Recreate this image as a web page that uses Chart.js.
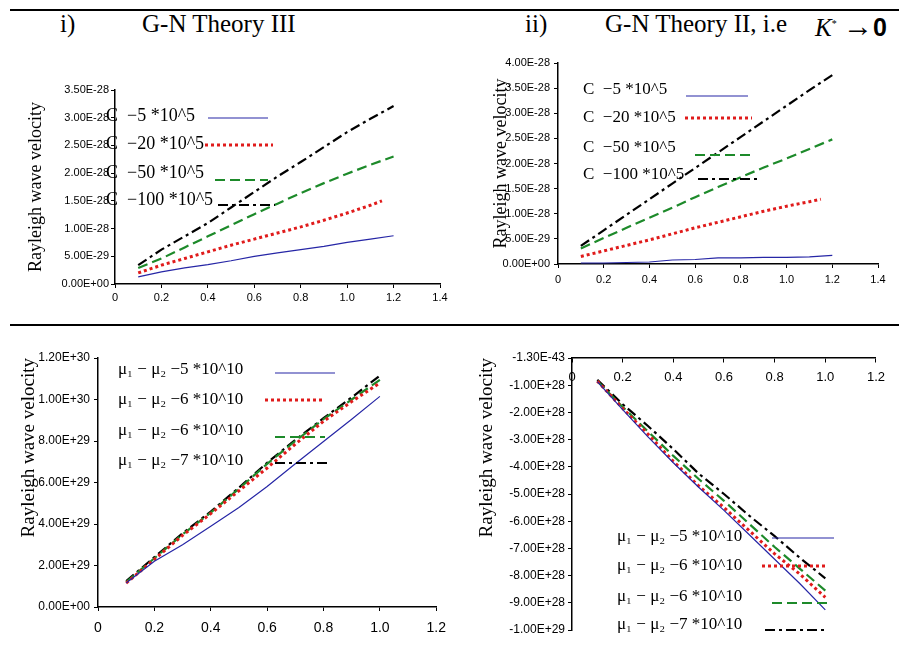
<!DOCTYPE html>
<html>
<head>
<meta charset="utf-8">
<script src="https://cdn.jsdelivr.net/npm/chart.js@4"></script>
<style>
  body { margin: 0; background: #fff; width: 899px; height: 658px; position: relative; overflow: hidden; font-family: "Liberation Serif", serif; }
  canvas { position: absolute; }
  .rule { position: absolute; left: 10px; width: 889px; height: 2px; background: #000; }
  .ttl { position: absolute; font-size: 25px; line-height: 25px; white-space: nowrap; color: #000; }
</style>
</head>
<body>
<div class="rule" style="top:9px"></div>
<div class="rule" style="top:324px"></div>
<div class="ttl" style="left:60px;top:11px">i)</div>
<div class="ttl" style="left:142px;top:11px">G-N Theory III</div>
<div class="ttl" style="left:525px;top:11px">ii)</div>
<div class="ttl" style="left:605px;top:11px">G-N Theory II, i.e</div>
<div class="ttl" style="left:815px;top:11px"><i>K</i><sup style="font-size:10px">*</sup> <span style="font-size:30px">&#8594;</span><b style="font-family:'Liberation Sans'">0</b></div>

<canvas id="c1" width="435" height="235" style="left:25px;top:75px"></canvas>
<canvas id="c2" width="402" height="252" style="left:490px;top:48px"></canvas>
<canvas id="c3" width="437" height="305" style="left:18px;top:340px"></canvas>
<canvas id="c4" width="417" height="305" style="left:476px;top:340px"></canvas>

<script>
// i) G-N Theory III  (y in units of 1E-28)
const iX = [0.1, 0.2, 0.3, 0.4, 0.5, 0.6, 0.7, 0.8, 0.9, 1.0, 1.1, 1.2];
const iXRed = [0.1, 0.2, 0.3, 0.4, 0.5, 0.6, 0.7, 0.8, 0.9, 1.0, 1.1, 1.15];
const iBlue = [0.13, 0.22, 0.29, 0.35, 0.42, 0.5, 0.56, 0.62, 0.68, 0.75, 0.81, 0.87];
const iRed = [0.2, 0.34, 0.46, 0.58, 0.7, 0.81, 0.92, 1.03, 1.15, 1.28, 1.42, 1.5];
const iGreen = [0.29, 0.46, 0.66, 0.86, 1.06, 1.26, 1.45, 1.64, 1.82, 1.99, 2.15, 2.3];
const iBlack = [0.34, 0.62, 0.86, 1.1, 1.38, 1.66, 1.94, 2.2, 2.47, 2.74, 2.98, 3.21];
const iLabels = ["C  \u22125 *10^5", "C  \u221220 *10^5", "C  \u221250 *10^5", "C  \u2212100 *10^5"];

// ii) G-N Theory II  (y in units of 1E-28)
const iiX = [0.1, 0.2, 0.3, 0.4, 0.5, 0.6, 0.7, 0.8, 0.9, 1.0, 1.1, 1.2];
const iiXRed = [0.1, 0.2, 0.3, 0.4, 0.5, 0.6, 0.7, 0.8, 0.9, 1.0, 1.1, 1.15];
const iiBlue = [0.02, 0.02, 0.03, 0.04, 0.08, 0.09, 0.12, 0.12, 0.13, 0.13, 0.14, 0.17];
const iiRed = [0.15, 0.26, 0.37, 0.48, 0.6, 0.72, 0.83, 0.94, 1.05, 1.15, 1.24, 1.29];
const iiGreen = [0.31, 0.52, 0.72, 0.92, 1.12, 1.33, 1.53, 1.73, 1.92, 2.1, 2.29, 2.48];
const iiBlack = [0.36, 0.67, 0.98, 1.29, 1.6, 1.91, 2.22, 2.53, 2.84, 3.15, 3.46, 3.76];
const iiLabels = ["C  \u22125 *10^5", "C  \u221220 *10^5", "C  \u221250 *10^5", "C  \u2212100 *10^5"];

// iii) (y in units of 1E+29)
const iiiX = [0.1, 0.2, 0.3, 0.4, 0.5, 0.6, 0.7, 0.8, 0.9, 1.0];
const iiiBlue = [1.16, 2.2, 3.0, 3.89, 4.8, 5.81, 6.9, 7.98, 9.05, 10.15];
const iiiRed = [1.15, 2.3, 3.45, 4.5, 5.6, 6.7, 7.85, 8.95, 9.9, 10.8];
const iiiGreen = [1.2, 2.35, 3.5, 4.55, 5.7, 6.9, 8.0, 9.05, 10.0, 10.95];
const iiiBlack = [1.25, 2.4, 3.55, 4.6, 5.75, 6.95, 8.05, 9.1, 10.1, 11.15];

// iv) (y in units of 1E+28)
const ivX = [0.1, 0.2, 0.3, 0.4, 0.5, 0.6, 0.7, 0.8, 0.9, 1.0];
const ivBlue = [-0.87, -1.9, -2.9, -3.85, -4.75, -5.6, -6.5, -7.4, -8.3, -9.26];
const ivRed = [-0.85, -1.85, -2.8, -3.8, -4.7, -5.5, -6.35, -7.2, -7.95, -8.8];
const ivGreen = [-0.85, -1.8, -2.7, -3.6, -4.45, -5.25, -6.1, -6.95, -7.75, -8.55];
const ivBlack = [-0.8, -1.7, -2.5, -3.35, -4.25, -5.0, -5.8, -6.55, -7.35, -8.1];
const ivZeroLabel = "-1.30E-43";

const muLabels = [
  "\u03bc\u2081 \u2212 \u03bc\u2082 \u22125 *10^10",
  "\u03bc\u2081 \u2212 \u03bc\u2082 \u22126 *10^10",
  "\u03bc\u2081 \u2212 \u03bc\u2082 \u22126 *10^10",
  "\u03bc\u2081 \u2212 \u03bc\u2082 \u22127 *10^10",
];

const styles = [
  { color: "#2626a6", width: 1.2, dash: [] },
  { color: "#e01b1b", width: 3, dash: [3, 3] },
  { color: "#1d8a2a", width: 2.2, dash: [10, 5] },
  { color: "#000000", width: 2.2, dash: [10, 4, 3, 4] },
];

function pts(xs, ys) {
  return xs.map((x, i) => ({ x: x, y: ys[i] }));
}

function sets(list, labels) {
  return list.map((p, i) => ({
    label: labels[i],
    data: pts(p[0], p[1]),
    borderColor: styles[i].color,
    borderWidth: styles[i].width,
    borderDash: styles[i].dash,
    pointRadius: 0,
    fill: false,
    tension: 0,
  }));
}

function sci(v) {
  if (Math.abs(v) < 1e-60) return "0.00E+00";
  return v.toExponential(2).toUpperCase();
}

// legend drawn inside the plot like in the scan
function legendPlugin(box, lg) {
  return {
    id: "inlineLegend",
    afterDatasetsDraw(chart) {
      const ctx = chart.ctx;
      ctx.save();
      chart.data.datasets.forEach((ds, i) => {
        const r = lg.rows[i];
        ctx.font = lg.font;
        ctx.fillStyle = "#000";
        ctx.textBaseline = "middle";
        ctx.setLineDash([]);
        ctx.fillText(ds.label, lg.textX - box.left, r.ty - box.top);
        ctx.strokeStyle = ds.borderColor;
        ctx.lineWidth = ds.borderWidth;
        ctx.setLineDash(ds.borderDash);
        ctx.beginPath();
        ctx.moveTo(r.x1 - box.left, r.ly - box.top);
        ctx.lineTo(r.x2 - box.left, r.ly - box.top);
        ctx.stroke();
      });
      ctx.restore();
    },
  };
}

function axis(size, pad) {
  return {
    border: { display: true, color: "#000", width: 1.5 },
    grid: { display: true, drawOnChartArea: false, drawTicks: true, tickLength: 4, color: "#000" },
    ticks: { color: "#000", font: { family: "Liberation Sans", size: size }, padding: pad, autoSkip: false },
  };
}

function makeChart(id, box, datasets, cfg, lg) {
  const xAx = axis(cfg.xFont, cfg.xPad);
  xAx.type = "linear";
  xAx.min = 0;
  xAx.max = cfg.xMax;
  xAx.ticks.stepSize = 0.2;
  if (cfg.xTop) {
    xAx.position = { y: 0 };
  } else {
    xAx.afterFit = (s) => { s.height = cfg.xH; };
  }

  const yAx = axis(cfg.yFont, cfg.yPad);
  yAx.min = cfg.yMin;
  yAx.max = cfg.yMax;
  yAx.ticks.stepSize = cfg.yStep;
  yAx.ticks.callback = cfg.yFmt;
  yAx.afterFit = (s) => { s.width = cfg.yW; };
  yAx.title = {
    display: true,
    text: "Rayleigh wave velocity",
    color: "#000",
    font: { family: "Liberation Serif", size: cfg.titleSize },
    padding: 0,
    align: cfg.titleAlign,
  };

  new Chart(document.getElementById(id), {
    type: "line",
    data: { datasets: datasets },
    options: {
      responsive: false,
      animation: false,
      layout: { padding: cfg.padding },
      plugins: { legend: { display: false }, tooltip: { enabled: false } },
      scales: { x: xAx, y: yAx },
    },
    plugins: [legendPlugin(box, lg)],
  });
}

makeChart("c1", { left: 25, top: 75 },
  sets([[iX, iBlue], [iXRed, iRed], [iX, iGreen], [iX, iBlack]], iLabels),
  {
    xMax: 1.4, xFont: 11, xPad: 3, xH: 26,
    yMin: 0, yMax: 3.5, yStep: 0.5, yFont: 11, yPad: 2, yW: 90,
    yFmt: (v) => sci(v * 1e-28),
    titleSize: 18, titleAlign: "center",
    padding: { top: 15, right: 20, left: 0, bottom: 0 },
  },
  {
    font: "18px 'Liberation Serif'", textX: 106,
    rows: [
      { ty: 116, x1: 208, x2: 268, ly: 118 },
      { ty: 144, x1: 205, x2: 273, ly: 145 },
      { ty: 173, x1: 215, x2: 268, ly: 180 },
      { ty: 200, x1: 218, x2: 275, ly: 205 },
    ],
  });

makeChart("c2", { left: 490, top: 48 },
  sets([[iiX, iiBlue], [iiXRed, iiRed], [iiX, iiGreen], [iiX, iiBlack]], iiLabels),
  {
    xMax: 1.4, xFont: 11, xPad: 5, xH: 36,
    yMin: 0, yMax: 4, yStep: 0.5, yFont: 11, yPad: 4, yW: 68,
    yFmt: (v) => sci(v * 1e-28),
    titleSize: 18, titleAlign: "center",
    padding: { top: 15, right: 14, left: 0, bottom: 0 },
  },
  {
    font: "17px 'Liberation Serif'", textX: 583,
    rows: [
      { ty: 90, x1: 686, x2: 748, ly: 96 },
      { ty: 118, x1: 685, x2: 752, ly: 118 },
      { ty: 148, x1: 695, x2: 752, ly: 155 },
      { ty: 175, x1: 698, x2: 757, ly: 179 },
    ],
  });

makeChart("c3", { left: 18, top: 340 },
  sets([[iiiX, iiiBlue], [iiiX, iiiRed], [iiiX, iiiGreen], [iiiX, iiiBlack]], muLabels),
  {
    xMax: 1.2, xFont: 14, xPad: 9, xH: 38,
    yMin: 0, yMax: 12, yStep: 2, yFont: 12, yPad: 4, yW: 80,
    yFmt: (v) => sci(v * 1e29),
    titleSize: 19, titleAlign: "end",
    padding: { top: 18, right: 17, left: 0, bottom: 0 },
  },
  {
    font: "17px 'Liberation Serif'", textX: 118,
    rows: [
      { ty: 370, x1: 275, x2: 335, ly: 373 },
      { ty: 400, x1: 265, x2: 325, ly: 400 },
      { ty: 431, x1: 275, x2: 325, ly: 437 },
      { ty: 461, x1: 275, x2: 327, ly: 463 },
    ],
  });

makeChart("c4", { left: 476, top: 340 },
  sets([[ivX, ivBlue], [ivX, ivRed], [ivX, ivGreen], [ivX, ivBlack]], muLabels),
  {
    xMax: 1.2, xFont: 13, xPad: 8, xTop: true,
    yMin: -10, yMax: 0, yStep: 1, yFont: 12, yPad: 3, yW: 96,
    yFmt: (v) => (v === 0 ? ivZeroLabel : sci(v * 1e28)),
    titleSize: 19, titleAlign: "end",
    padding: { top: 18, right: 11, left: 0, bottom: 15 },
  },
  {
    font: "17px 'Liberation Serif'", textX: 617,
    rows: [
      { ty: 537, x1: 772, x2: 834, ly: 538 },
      { ty: 566, x1: 762, x2: 828, ly: 566 },
      { ty: 597, x1: 772, x2: 828, ly: 603 },
      { ty: 625, x1: 765, x2: 825, ly: 630 },
    ],
  });
</script>
</body>
</html>
